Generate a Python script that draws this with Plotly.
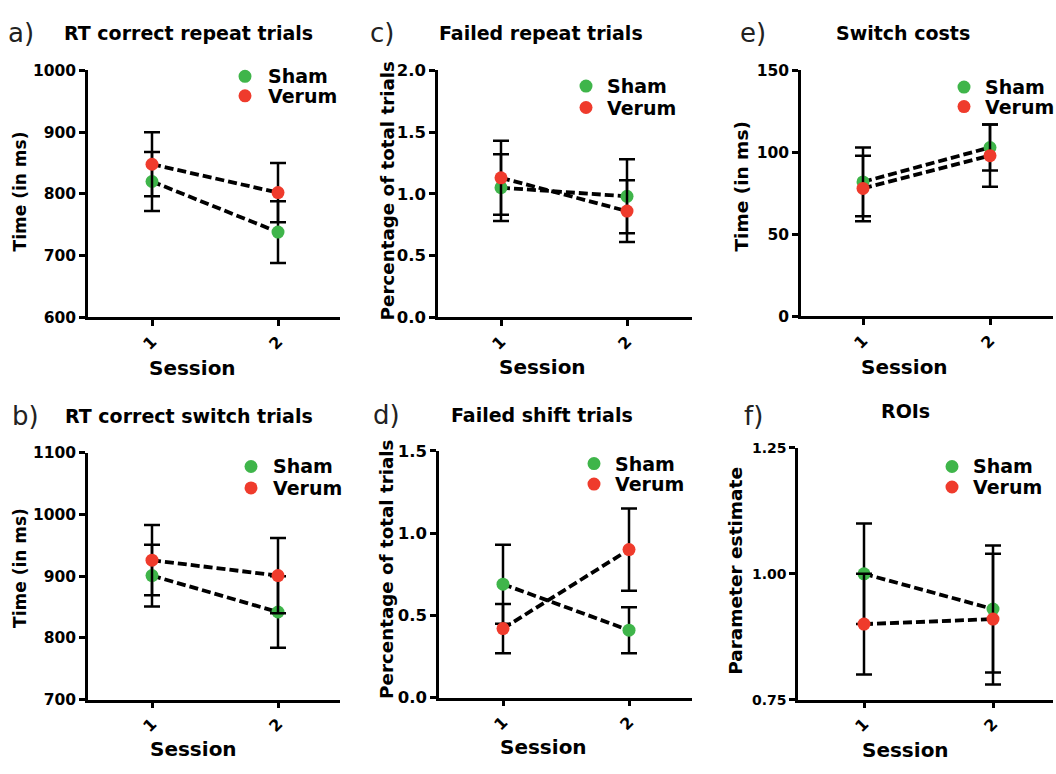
import plotly.graph_objects as go

W, H = 1056, 774

# ---------------- data ----------------
sessions = [1, 2]

a_sham = [820, 738];  a_sham_err = [48, 50]
a_verum = [848, 802]; a_verum_err = [52, 48]

b_sham = [901, 842];  b_sham_err = [50, 58]
b_verum = [926, 901]; b_verum_err = [57, 61]

c_sham = [1.05, 0.98];  c_sham_err = [0.27, 0.30]
c_verum = [1.13, 0.86]; c_verum_err = [0.30, 0.25]

d_sham = [0.69, 0.41];  d_sham_err = [0.24, 0.14]
d_verum = [0.42, 0.90]; d_verum_err = [0.15, 0.25]

e_sham = [82, 103];  e_sham_err = [21, 14]
e_verum = [78, 98];  e_verum_err = [20, 19]

f_sham = [1.00, 0.93];  f_sham_err = [0.10, 0.126]
f_verum = [0.90, 0.91]; f_verum_err = [0.10, 0.13]

a_ticks = [600, 700, 800, 900, 1000]
b_ticks = [700, 800, 900, 1000, 1100]
c_ticks = [0.0, 0.5, 1.0, 1.5, 2.0]
d_ticks = [0.0, 0.5, 1.0, 1.5]
e_ticks = [0, 50, 100, 150]
f_ticks = [0.75, 1.00, 1.25]

group_names = ["Sham", "Verum"]
x_title = "Session"

# ---------------- style ----------------
FONT = "DejaVu Sans"
GREEN = "#3fb54a"
RED = "#ef3b2c"

def px(x):
    return x / W

def py(y):
    return 1 - y / H

panels = [
    dict(key="a", title="RT correct repeat trials", ylab="Time (in ms)",
         sham=a_sham, se=a_sham_err, verum=a_verum, ve=a_verum_err,
         ticks=a_ticks, fmt="d", tfs=15.5, yfs=17,
         geo=(88, 340, 152, 278, 63, 316), ttl=(188, 25), lab=(6, 25),
         ytl=(20, 187), xtl=(192, 368), leg=(245, 69, 89, 266)),
    dict(key="c", title="Failed repeat trials", ylab="Percentage of total trials",
         sham=c_sham, se=c_sham_err, verum=c_verum, ve=c_verum_err,
         ticks=c_ticks, fmt=".1f", tfs=16.5, yfs=18.3,
         geo=(438, 692, 501, 627, 63, 316), ttl=(541, 25), lab=(368, 25),
         ytl=(387, 187), xtl=(542, 367), leg=(586, 79, 101, 605)),
    dict(key="e", title="Switch costs", ylab="Time (in ms)",
         sham=e_sham, se=e_sham_err, verum=e_verum, ve=e_verum_err,
         ticks=e_ticks, fmt="d", tfs=15.5, yfs=18.5,
         geo=(801, 1053, 863, 990, 63, 315), ttl=(903, 25), lab=(738, 25),
         ytl=(742, 182), xtl=(904, 367), leg=(964, 80, 100, 983)),
    dict(key="b", title="RT correct switch trials", ylab="Time (in ms)",
         sham=b_sham, se=b_sham_err, verum=b_verum, ve=b_verum_err,
         ticks=b_ticks, fmt="d", tfs=15.5, yfs=17,
         geo=(88, 340, 152, 278, 455, 708), ttl=(189, 417), lab=(10, 417),
         ytl=(20, 573), xtl=(193, 759), leg=(251, 469, 491, 271)),
    dict(key="d", title="Failed shift trials", ylab="Percentage of total trials",
         sham=d_sham, se=d_sham_err, verum=d_verum, ve=d_verum_err,
         ticks=d_ticks, fmt=".1f", tfs=16.5, yfs=18.3,
         geo=(439, 692, 503, 629, 453, 706), ttl=(542, 416), lab=(371, 416),
         ytl=(387, 575), xtl=(543, 757), leg=(594, 466, 487, 613)),
    dict(key="f", title="ROIs", ylab="Parameter estimate",
         sham=f_sham, se=f_sham_err, verum=f_verum, ve=f_verum_err,
         ticks=f_ticks, fmt=".2f", tfs=14, yfs=18.5,
         geo=(798, 1053, 864, 993, 450, 708), ttl=(905, 412), lab=(742, 417),
         ytl=(736, 576), xtl=(905, 760), leg=(952, 469, 490, 971)),
]

fig = go.Figure()
annotations = []
shapes = []

for i, p in enumerate(panels, start=1):
    xa = "x" if i == 1 else f"x{i}"
    ya = "y" if i == 1 else f"y{i}"
    xkey = "xaxis" if i == 1 else f"xaxis{i}"
    ykey = "yaxis" if i == 1 else f"yaxis{i}"
    left, right, s1, s2, top, bottom = p["geo"]
    unit = s2 - s1
    xr = [1 - (s1 - left) / unit, 2 + (right - s2) / unit]

    for name, vals, errs, col in [("Sham", p["sham"], p["se"], GREEN),
                                  ("Verum", p["verum"], p["ve"], RED)]:
        fig.add_trace(go.Scatter(
            x=sessions, y=vals, xaxis=xa, yaxis=ya, name=name,
            mode="lines+markers", showlegend=False, cliponaxis=False,
            line=dict(color="black", width=3.8, dash="9px,4px"),
            marker=dict(color=col, size=13, line=dict(width=0)),
            error_y=dict(type="data", array=errs, visible=True,
                         color="black", thickness=2.5, width=8),
        ))

    tickvals = p["ticks"]
    if p["fmt"] == "d":
        ticktext = [f"{int(v)}" for v in tickvals]
    else:
        ticktext = [format(v, p["fmt"]) for v in tickvals]

    fig.update_layout({
        xkey: dict(domain=[px(left), px(right)], range=xr, anchor=ya,
                   showline=True, linecolor="black", linewidth=2.5,
                   ticks="outside", ticklen=6, tickwidth=2.5, tickcolor="black",
                   tickvals=sessions, ticktext=[str(s) for s in sessions],
                   tickangle=-45, showgrid=False, zeroline=False,
                   tickfont=dict(family=FONT, size=16, color="black", weight="bold")),
        ykey: dict(domain=[py(bottom), py(top)],
                   range=[tickvals[0], tickvals[-1]], anchor=xa,
                   showline=True, linecolor="black", linewidth=2.5,
                   ticks="outside", ticklen=6, tickwidth=2.5, tickcolor="black",
                   tickvals=tickvals, ticktext=ticktext,
                   showgrid=False, zeroline=False,
                   tickfont=dict(family=FONT, size=p["tfs"], color="black", weight="bold")),
    })

    # panel letter
    annotations.append(dict(x=px(p["lab"][0]), y=py(p["lab"][1]), xref="paper", yref="paper",
                            text=f"{p['key']})", showarrow=False, xanchor="left", yanchor="middle",
                            font=dict(family=FONT, size=26, color="#222")))
    # panel title
    annotations.append(dict(x=px(p["ttl"][0]), y=py(p["ttl"][1]), xref="paper", yref="paper",
                            text=p["title"], showarrow=False, xanchor="center", yanchor="middle",
                            font=dict(family=FONT, size=19, color="black", weight="bold")))
    # y title
    annotations.append(dict(x=px(p["ytl"][0]), y=py(p["ytl"][1]), xref="paper", yref="paper",
                            text=p["ylab"], showarrow=False, textangle=-90,
                            xanchor="center", yanchor="middle",
                            font=dict(family=FONT, size=p["yfs"], color="black", weight="bold")))
    # x title
    annotations.append(dict(x=px(p["xtl"][0]), y=py(p["xtl"][1]), xref="paper", yref="paper",
                            text=x_title, showarrow=False, xanchor="center", yanchor="middle",
                            font=dict(family=FONT, size=20, color="black", weight="bold")))
    # legend
    mx, y1, y2, tx = p["leg"]
    for gname, gy, col in [(group_names[0], y1, GREEN), (group_names[1], y2, RED)]:
        shapes.append(dict(type="circle", xref="paper", yref="paper",
                           xsizemode="pixel", ysizemode="pixel",
                           xanchor=px(mx), yanchor=py(gy),
                           x0=-6.5, x1=6.5, y0=-6.5, y1=6.5,
                           fillcolor=col, line=dict(width=0)))
        annotations.append(dict(x=px(tx), y=py(gy), xref="paper", yref="paper",
                                text=gname, showarrow=False, xanchor="left", yanchor="middle",
                                font=dict(family=FONT, size=19, color="black", weight="bold")))

fig.update_layout(
    width=W, height=H, autosize=False,
    margin=dict(l=0, r=0, t=0, b=0),
    paper_bgcolor="white", plot_bgcolor="white",
    annotations=annotations, shapes=shapes,
    showlegend=False,
    font=dict(family=FONT, color="black"),
)

fig.write_html("out.html")
